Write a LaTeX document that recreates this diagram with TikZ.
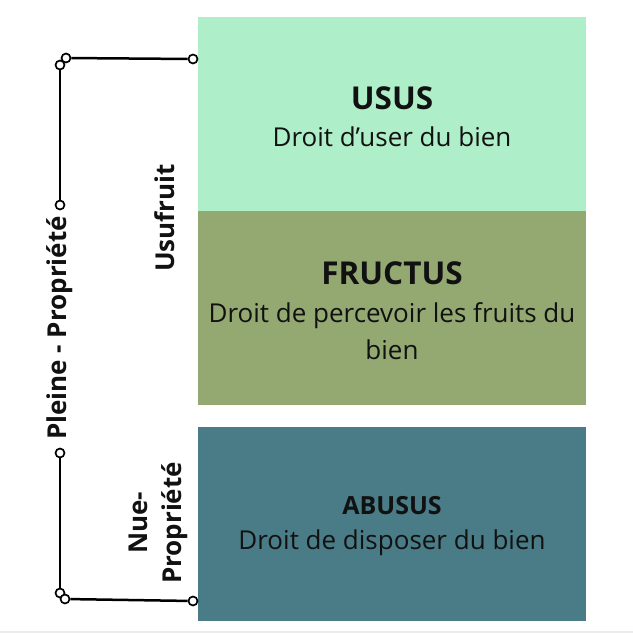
\documentclass[tikz,border=0pt]{standalone}
\usepackage{fontspec}
\setmainfont{Open Sans}
\usetikzlibrary{positioning}
\definecolor{ususvert}{RGB}{174, 238, 200}
\definecolor{fructusvert}{RGB}{148, 168, 114}
\definecolor{abususbleu}{RGB}{73, 124, 134}
\definecolor{filet}{RGB}{236, 236, 236}
\definecolor{encre}{RGB}{17, 17, 17}

\tikzset{
  droit/.style={minimum width=388pt, minimum height=194pt, inner sep=0pt},
  titre/.style={text=encre, font=\fontsize{31.5}{36}\selectfont\bfseries},
  petittitre/.style={text=encre, font=\fontsize{25}{30}\selectfont\bfseries},
  texte/.style={text=encre, font=\fontsize{26}{37}\selectfont, align=center},
  borne/.style={circle, draw, fill=white, line width=1.7pt, inner sep=0pt, minimum size=9pt},
  lien/.style={line width=2.5pt},
  cote/.style={rotate=90, text=encre, font=\fontsize{26}{34}\selectfont\bfseries, align=center}
}

\begin{document}
\begin{tikzpicture}[x=1pt, y=-1pt]
            \useasboundingbox                                             (0, 0) rectangle (633, 633);
            \fill[filet]                                                  (0, 631) rectangle (633, 633);
            % les trois droits
            \node[droit, fill=ususvert]    (usus)    at (392, 114.0) {};
            \node[droit, fill=fructusvert] (fructus) at (392, 307.5) {};
            \node[droit, fill=abususbleu]  (abusus)  at (392, 523.5) {};
            \node[titre]      (usus-titre)    at (392,  98) {USUS};
            \node[texte]      (usus-texte)    at (392, 137) {Droit d’user du bien};
            \node[titre]      (fructus-titre) at (392, 273) {FRUCTUS};
            \node[texte]      (fructus-texte) at (392, 331) {Droit de percevoir les fruits du\\bien};
            \node[petittitre] (abusus-titre)  at (392, 506) {ABUSUS};
            \node[texte]      (abusus-texte)  at (392, 543) {Droit de disposer du bien};
            % accolades
            \node[borne] (usu-a)  at (193,  59) {};
            \node[borne] (usu-b)  at ( 66,  58) {};
            \node[borne] (plein-a) at ( 60,  65) {};
            \node[borne] (plein-b) at ( 60, 205) {};
            \node[borne] (plein-c) at ( 60, 453) {};
            \node[borne] (plein-d) at ( 60, 593) {};
            \node[borne] (nue-b)  at ( 65, 599) {};
            \node[borne] (nue-a)  at (193, 601) {};
            \draw[lien] (usu-b)   -- (usu-a);
            \draw[lien] (plein-a) -- (plein-b);
            \draw[lien] (plein-c) -- (plein-d);
            \draw[lien] (nue-b)   -- (nue-a);
            \node[cote] (plein)    at ( 60, 328) {Pleine - Propriété};
            \node[cote] (usufruit) at (165, 218) {Usufruit};
            \node[cote] (nue)      at (158, 523) {Nue-\\Propriété};
        \end{tikzpicture}
\end{document}
